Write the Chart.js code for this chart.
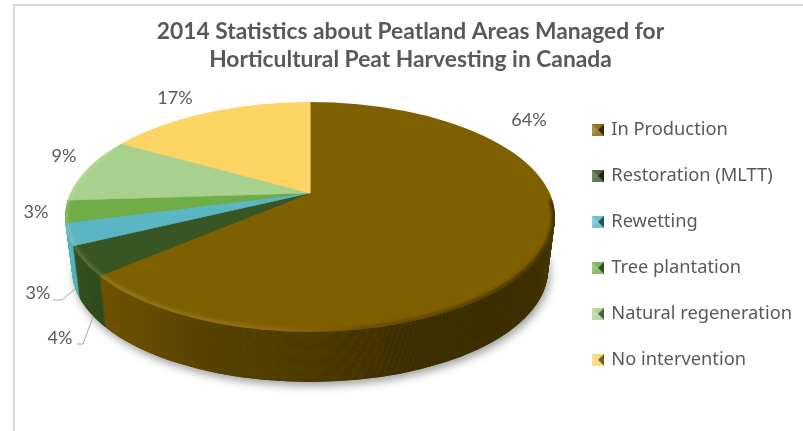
<!DOCTYPE html>
<html>
<head>
<meta charset="utf-8">
<title>Peatland areas</title>
<script src="https://cdn.jsdelivr.net/npm/chart.js@4/dist/chart.umd.min.js"></script>
<style>
  html, body { margin: 0; padding: 0; background: #fff; overflow: hidden; }
  #frame { position: absolute; left: 13px; top: 4px; right: 0; bottom: 0; border-left: 2px solid #d9d9d9; border-top: 2px solid #d9d9d9; }
  #wrap { position: absolute; left: 0; top: 0; width: 803px; height: 431px; }
</style>
</head>
<body>
<div id="frame"></div>
<div id="wrap"><canvas id="chart" width="803" height="431"></canvas></div>
<script>
const titleLines = ["2014 Statistics about Peatland Areas Managed for", "Horticultural Peat Harvesting in Canada"];
const categories = ["In Production", "Restoration (MLTT)", "Rewetting", "Tree plantation", "Natural regeneration", "No intervention"];
const shares = [64, 4, 3, 3, 9, 17];
const colors = ["#7f6000", "#375623", "#5bb6c4", "#70ad47", "#a9d18e", "#fcd565"];

// where the percent labels sit on the picture
const labelSpots = [[529, 120], [60, 338], [38, 293], [36, 212], [64, 156], [175, 98]];
const leaders = { 1: [[77, 344], [83, 344], [93, 317]], 2: [[53, 300], [62, 300], [75, 289]] };

// disc geometry: the centre of the pie is seen off-centre because of the perspective
const apex = { x: 310, y: 193 };
const topDisc = { x: 310, y: 217, rx: 245, ry: 115 };
const baseDisc = { x: 310, y: 270, rx: 238, ry: 112 };
const tilt = 0.475;
const legendTop = 93;
const legendShift = 10;

function bevelMark(color) {
  const c = document.createElement("canvas");
  c.width = 12; c.height = 12;
  const g = c.getContext("2d");
  const tri = (pts, fill) => {
    g.beginPath();
    g.moveTo(pts[0][0], pts[0][1]);
    g.lineTo(pts[1][0], pts[1][1]);
    g.lineTo(pts[2][0], pts[2][1]);
    g.closePath();
    g.fillStyle = fill;
    g.fill();
  };
  g.fillStyle = color;
  g.fillRect(0, 0, 12, 12);
  tri([[0, 0], [12, 0], [6, 6]], "rgba(255,255,255,0.12)");
  tri([[0, 0], [0, 12], [6, 6]], "rgba(255,255,255,0.3)");
  tri([[12, 0], [12, 12], [6, 6]], "rgba(0,0,0,0.55)");
  tri([[0, 12], [12, 12], [6, 6]], "rgba(255,255,255,0.2)");
  return c;
}
const legendMarks = colors.map(bevelMark);

function drawWedges(chart, ctx, apexX, apexY) {
  const arcs = chart.getDatasetMeta(0).data;
  const s = 360 / arcs[0].outerRadius;
  arcs.forEach((arc) => {
    ctx.save();
    ctx.translate(apexX, apexY);
    ctx.scale(s, s * tilt);
    ctx.translate(-arc.x, -arc.y);
    arc.draw(ctx);
    ctx.restore();
  });
}

const discPlugin = {
  id: "disc",
  afterLayout(chart) {
    chart.legend.top = legendTop;
    chart.legend.bottom = legendTop + 330;
    chart.legend.left += legendShift;
    chart.legend.right += legendShift;
  },
  beforeDatasetsDraw(chart) {
    const ctx = chart.ctx;

    // soft shadow under the disc
    ctx.save();
    ctx.shadowColor = "rgba(0,0,0,0.38)";
    ctx.shadowBlur = 9;
    ctx.shadowOffsetX = 2;
    ctx.shadowOffsetY = 4;
    ctx.fillStyle = "#555";
    ctx.beginPath();
    ctx.ellipse(baseDisc.x, baseDisc.y, baseDisc.rx, baseDisc.ry, 0, 0, Math.PI * 2);
    ctx.fill();
    ctx.restore();

    // side wall, stacked from the base upward
    const shade = ctx.createLinearGradient(66, 0, 555, 0);
    shade.addColorStop(0, "rgba(0,0,0,0)");
    shade.addColorStop(0.08, "rgba(0,0,0,0.14)");
    shade.addColorStop(0.28, "rgba(0,0,0,0.33)");
    shade.addColorStop(0.5, "rgba(0,0,0,0.42)");
    shade.addColorStop(0.7, "rgba(0,0,0,0.57)");
    shade.addColorStop(1, "rgba(0,0,0,0.6)");
    const steps = 53;
    for (let i = steps; i >= 1; i--) {
      const t = i / steps;
      ctx.save();
      ctx.beginPath();
      ctx.ellipse(topDisc.x, topDisc.y + (baseDisc.y - topDisc.y) * t,
        topDisc.rx + (baseDisc.rx - topDisc.rx) * t, topDisc.ry + (baseDisc.ry - topDisc.ry) * t,
        0, 0, Math.PI * 2);
      ctx.clip();
      drawWedges(chart, ctx, apex.x, apex.y + (baseDisc.y - topDisc.y) * t);
      ctx.fillStyle = shade;
      ctx.fillRect(0, 0, chart.width, chart.height);
      ctx.restore();
    }

    // top face
    ctx.save();
    ctx.beginPath();
    ctx.ellipse(topDisc.x, topDisc.y, topDisc.rx, topDisc.ry, 0, 0, Math.PI * 2);
    ctx.clip();
    drawWedges(chart, ctx, apex.x, apex.y);

    // bevel on the rim: warm light on the left, dark on the right
    const rim = ctx.createLinearGradient(66, 0, 555, 0);
    rim.addColorStop(0, "rgba(255,240,170,0.16)");
    rim.addColorStop(0.35, "rgba(255,215,110,0.14)");
    rim.addColorStop(0.6, "rgba(60,40,0,0.28)");
    rim.addColorStop(1, "rgba(20,12,0,0.55)");
    ctx.filter = "blur(1.5px)";
    ctx.strokeStyle = rim;
    ctx.lineWidth = 5;
    ctx.beginPath();
    ctx.ellipse(topDisc.x, topDisc.y, topDisc.rx - 1, topDisc.ry - 1, 0, -0.15, Math.PI * 1.2);
    ctx.stroke();
    ctx.restore();

    return false;
  },
  afterDraw(chart) {
    const ctx = chart.ctx;
    ctx.save();
    ctx.font = "18px Lato";
    ctx.fillStyle = "#595959";
    ctx.textAlign = "center";
    ctx.textBaseline = "middle";
    shares.forEach((v, i) => {
      ctx.fillText(v + "%", labelSpots[i][0], labelSpots[i][1]);
    });
    ctx.strokeStyle = "#a6a6a6";
    ctx.lineWidth = 1;
    Object.values(leaders).forEach((pts) => {
      ctx.beginPath();
      pts.forEach((p, j) => (j ? ctx.lineTo(p[0], p[1]) : ctx.moveTo(p[0], p[1])));
      ctx.stroke();
    });
    ctx.restore();
  }
};

new Chart(document.getElementById("chart"), {
  type: "pie",
  data: {
    labels: categories,
    datasets: [{
      data: shares,
      backgroundColor: colors,
      borderColor: colors,
      borderWidth: 0.6
    }]
  },
  options: {
    responsive: false,
    animation: false,
    layout: { padding: { left: 29, right: 11, top: 0, bottom: 0 } },
    plugins: {
      tooltip: { enabled: false },
      title: {
        display: true,
        text: titleLines,
        color: "#595959",
        font: { family: "Lato", size: 22.8, weight: "bold", lineHeight: 1.26 },
        padding: { top: 17, bottom: 10 }
      },
      legend: {
        position: "right",
        align: "start",
        labels: {
          color: "#595959",
          font: { family: "Noto Sans", size: 18.3 },
          usePointStyle: true,
          pointStyleWidth: 8,
          boxWidth: 12,
          boxHeight: 12,
          padding: 27.7,
          generateLabels(chart) {
            const items = Chart.overrides.pie.plugins.legend.labels.generateLabels(chart);
            items.forEach((it, i) => { it.pointStyle = legendMarks[i]; });
            return items;
          }
        }
      }
    }
  },
  plugins: [discPlugin]
});
</script>
</body>
</html>
